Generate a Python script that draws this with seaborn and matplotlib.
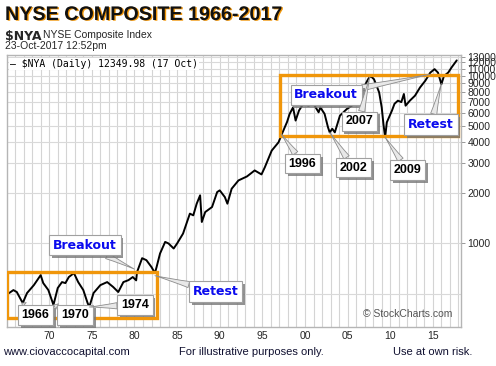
import matplotlib
matplotlib.use("Agg")
import matplotlib.pyplot as plt
import matplotlib.patheffects as pe
from matplotlib.patches import Rectangle
import numpy as np
import pandas as pd
import seaborn as sns

# ---------------- data ----------------
years = [1965.3, 1965.8, 1966.2, 1966.7, 1966.9, 1967.4, 1968.2, 1968.6, 1969.0, 1969.3,
         1969.9, 1970.5, 1971.0, 1971.5, 1971.9, 1972.3, 1972.9, 1973.4, 1974.0, 1974.5,
         1974.7, 1975.2, 1976.0, 1976.8, 1977.5, 1978.1, 1978.7, 1979.3, 1979.8, 1980.2,
         1980.3, 1980.9, 1981.4, 1982.0, 1982.4, 1982.6, 1983.0, 1983.6, 1984.0, 1984.6,
         1985.0, 1985.7, 1986.1, 1986.5, 1986.9, 1987.3, 1987.7, 1987.9, 1988.3, 1989.1,
         1989.7, 1990.0, 1990.6, 1990.9, 1991.4, 1992.2, 1993.2, 1994.1, 1994.9, 1995.3,
         1996.1, 1996.9, 1997.3, 1997.9, 1998.2, 1998.6, 1998.9, 1999.3, 1999.8, 2000.4,
         2001.0, 2001.6, 2001.8, 2002.3, 2002.7, 2002.9, 2003.2, 2003.5, 2004.1, 2004.9,
         2005.5, 2006.2, 2006.8, 2007.4, 2007.7, 2008.1, 2008.4, 2008.7, 2009.0, 2009.2,
         2009.4, 2009.6, 2010.2, 2010.5, 2010.9, 2011.3, 2011.6, 2011.8, 2012.3, 2012.9,
         2013.5, 2014.1, 2014.7, 2015.2, 2015.6, 2016.0, 2016.3, 2016.8, 2017.2, 2017.8]
values = [504, 525, 511, 458, 440, 504, 562, 602, 645, 578,
          525, 428, 540, 586, 578, 628, 663, 586, 525, 440,
          416, 504, 562, 586, 548, 511, 586, 602, 628, 600,
          672, 814, 792, 720, 663, 722, 868, 1018, 996, 930,
          996, 1142, 1310, 1502, 1467, 1722, 1932, 1339, 1535, 1645,
          2020, 2068, 1886, 1722, 2115, 2371, 2505, 2720, 2575, 2847,
          3574, 4005, 4500, 5300, 5917, 6470, 5400, 6200, 6800, 6625,
          6800, 6050, 6470, 5917, 4920, 4590, 4825, 4590, 5775, 6325,
          6625, 7430, 8330, 9525, 9970, 9525, 8710, 7950, 6470, 5160,
          4290, 5270, 6190, 6800, 7100, 6960, 7780, 6625, 7100, 7600,
          8520, 9320, 10440, 10950, 10440, 8900, 9970, 10440, 11220, 12350]

ytick_values = [1000, 2000, 3000, 4000, 5000, 6000, 7000, 8000, 9000, 10000, 11000, 12000, 13000]
ygrid_values = [500] + ytick_values
xtick_years = [1970, 1975, 1980, 1985, 1990, 1995, 2000, 2005, 2010, 2015]
xtick_labels = ["70", "75", "80", "85", "90", "95", "00", "05", "10", "15"]

# callouts: label, target (year, value), text position (axes fraction)
callout_labels = ["Breakout", "Retest", "1966", "1970", "1974",
                  "Breakout", "2007", "Retest", "1996", "2002", "2009"]
callout_targets = [(1980.0, 700), (1982.4, 640), (1966.8, 440), (1970.5, 428), (1974.7, 416),
                   (2014.7, 10200), (2007.6, 9850), (2016.0, 9000), (1997.2, 4500),
                   (2002.9, 4590), (2009.4, 4290)]
callout_pos = [(0.172, 0.301), (0.460, 0.130), (0.063, 0.044), (0.150, 0.044), (0.282, 0.081),
               (0.703, 0.853), (0.776, 0.756), (0.934, 0.744), (0.651, 0.601),
               (0.763, 0.586), (0.882, 0.577)]

# orange range boxes: (x0, x1, y0, y1)
range_boxes = [(1965.08, 1982.66, 358, 672), (1997.07, 2017.93, 4395, 10140)]

df = pd.DataFrame({"year": years, "value": values})

# ---------------- figure ----------------
sns.set_style("white")
plt.rcParams['font.family'] = ['DejaVu Sans']

fig = plt.figure(figsize=(4.96, 3.66), dpi=100)
ax = fig.add_axes([7 / 496, (366 - 327) / 366, 454 / 496, 272 / 366])

sns.lineplot(data=df, x="year", y="value", color="black", lw=1.4, ax=ax, zorder=3)
ax.set_yscale("log")
ax.set_xlim(1965.05, 2018.3)
ax.set_ylim(316, 13300)

# grid
for yr in range(1966, 2019):
    ax.axvline(yr, color="#d4d4d4", lw=0.8, zorder=0)
for v in ygrid_values:
    ax.axhline(v, color="#d9d9d9", lw=0.8, zorder=0)

ax.yaxis.tick_right()
ax.set_yticks(ytick_values)
ax.set_yticklabels([str(v) for v in ytick_values], fontsize=7.5, family="Liberation Sans")
ax.yaxis.set_minor_locator(matplotlib.ticker.NullLocator())
ax.tick_params(axis="y", which="major", length=3, width=0.6, color="#888888", pad=1.5)
ax.set_xticks(xtick_years)
ax.set_xticklabels(xtick_labels, fontsize=7.5, family="Liberation Sans")
ax.tick_params(axis="x", length=0, pad=3)
ax.set_xlabel("")
ax.set_ylabel("")
for s in ax.spines.values():
    s.set_color("#b5b5b5")
    s.set_linewidth(1)

# orange boxes
for (x0, x1, y0, y1) in range_boxes:
    ax.add_patch(Rectangle((x0, y0), x1 - x0, y1 - y0, fill=False, ec="#F0960A", lw=2.4, zorder=4))

# callouts
for lab, tgt, pos in zip(callout_labels, callout_targets, callout_pos):
    is_word = not lab.isdigit()
    t = ax.annotate(lab, xy=tgt, xycoords="data", xytext=pos, textcoords="axes fraction",
                    ha="center", va="center", fontsize=9,
                    family="DejaVu Sans" if is_word else "Liberation Sans",
                    fontweight="bold", color="#0a0aee" if is_word else "black",
                    bbox=dict(boxstyle="square,pad=0.3", fc="white", ec="#a0a0a0", lw=0.8),
                    arrowprops=dict(arrowstyle="wedge,tail_width=0.5,shrink_factor=0.4",
                                    fc="#e8e8e8", ec="#8c8c8c", lw=0.6, shrinkA=0, shrinkB=0),
                    zorder=6)
    t.get_bbox_patch().set_path_effects([pe.withSimplePatchShadow(offset=(2, -2),
                                                                  shadow_rgbFace="#777777",
                                                                  alpha=0.8)])

# legend line inside plot
ax.text(0.006, 0.985, "\u2014 $NYA (Daily) 12349.98 (17 Oct)", transform=ax.transAxes,
        ha="left", va="top", fontsize=7, family="DejaVu Sans Mono", color="black",
        bbox=dict(boxstyle="square,pad=0.1", fc="white", ec="none"), zorder=7)

# watermark
ax.text(0.980, 0.028, "\u00a9 StockCharts.com", transform=ax.transAxes, ha="right",
        va="bottom", fontsize=7.5, family="Liberation Sans", color="#555555", zorder=2)

# header texts
title = fig.text(5 / 496, 1 - 5 / 366, "NYSE COMPOSITE 1966-2017", ha="left", va="top",
                 fontsize=14.2, fontweight="bold", family="Liberation Sans", color="#111111")
title.set_path_effects([pe.SimplePatchShadow(offset=(1, -0.5), shadow_rgbFace="#F0960A", alpha=1),
                        pe.Normal()])
fig.text(5 / 496, 1 - 30 / 366, "$NYA", ha="left", va="top", fontsize=9, fontweight="bold")
fig.text(43 / 496, 1 - 30 / 366, "NYSE Composite Index", ha="left", va="top", fontsize=7.5,
         family="Liberation Sans")
fig.text(5 / 496, 1 - 41 / 366, "23-Oct-2017 12:52pm", ha="left", va="top", fontsize=7.5,
         family="Liberation Sans")

# footer
foot_color = "#101030"
fig.text(3 / 496, 1 - 347 / 366, "www.ciovaccocapital.com", ha="left", va="top", fontsize=8,
         family="Liberation Sans", color=foot_color)
fig.text(179 / 496, 1 - 347 / 366, "For illustrative purposes only.", ha="left", va="top",
         fontsize=8, family="Liberation Sans", color=foot_color)
fig.text(393 / 496, 1 - 347 / 366, "Use at own risk.", ha="left", va="top", fontsize=8,
         family="Liberation Sans", color=foot_color)

fig.savefig("out.png", dpi=100)
